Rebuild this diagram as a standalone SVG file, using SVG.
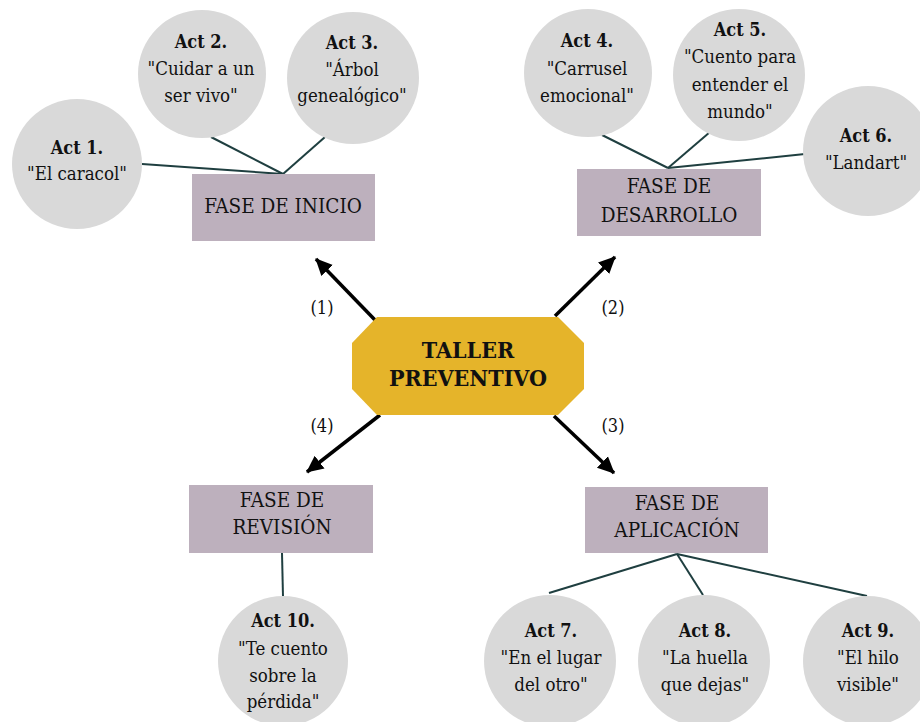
<svg xmlns="http://www.w3.org/2000/svg" width="920" height="722" viewBox="0 0 920 722">
<style>
.act{fill:#d9d9d9}
.box{fill:#bdb0bd}
text{font-family:'DejaVu Serif Condensed','DejaVu Serif',serif;font-stretch:condensed;fill:#111;text-anchor:middle}
.t{font-size:18.5px}
.b{font-weight:bold;font-size:18px}
.bt{font-size:20.5px}
.lbl{font-size:18px}
.ttl{font-weight:bold;font-size:23px}
.ln{stroke:#1f3f40;stroke-width:2;fill:none}
.ar{stroke:#000;stroke-width:3.5;fill:none;marker-end:url(#ah)}
</style>
<defs>
<marker id="ah" markerUnits="userSpaceOnUse" markerWidth="18" markerHeight="18" refX="16" refY="8" orient="auto" viewBox="0 0 18 16">
<path d="M0,0 L17,8 L0,16 z" fill="#000"/>
</marker>
</defs>
<rect width="920" height="722" fill="#fff"/>
<g id="connectors">
<line class="ln" x1="142" y1="164" x2="283" y2="174"/>
<line class="ln" x1="211" y1="137" x2="283" y2="174"/>
<line class="ln" x1="325" y1="137" x2="283" y2="174"/>
<line class="ln" x1="602" y1="135" x2="668" y2="168"/>
<line class="ln" x1="710" y1="132" x2="668" y2="168"/>
<line class="ln" x1="805" y1="154" x2="668" y2="168"/>
<line class="ln" x1="282" y1="553" x2="283" y2="597"/>
<line class="ln" x1="677" y1="554" x2="549" y2="593"/>
<line class="ln" x1="677" y1="554" x2="703" y2="595"/>
<line class="ln" x1="677" y1="554" x2="867" y2="596"/>
<line class="ar" x1="375" y1="320" x2="316" y2="259"/>
<line class="ar" x1="555" y1="316" x2="615" y2="257"/>
<line class="ar" x1="554" y1="416" x2="614" y2="473"/>
<line class="ar" x1="380" y1="415" x2="307" y2="472"/>
<text class="lbl" x="322" y="314">(1)</text>
<text class="lbl" x="613" y="314">(2)</text>
<text class="lbl" x="613" y="432">(3)</text>
<text class="lbl" x="322" y="432">(4)</text>
</g>
<g id="center">
<polygon points="377,317 558,317 584,343 584,389 558,415 377,415 352,389 352,343" fill="#e5b42a"/>
<text class="ttl" x="468" y="358">TALLER</text>
<text class="ttl" x="468" y="386">PREVENTIVO</text>
</g>
<g id="fase-inicio">
<rect class="box" x="192" y="174" width="183" height="67"/>
<text class="bt" x="283" y="213">FASE DE INICIO</text>
</g>
<g id="fase-desarrollo">
<rect class="box" x="577" y="169" width="184" height="67"/>
<text class="bt" x="669" y="193">FASE DE</text>
<text class="bt" x="669" y="222">DESARROLLO</text>
</g>
<g id="fase-revision">
<rect class="box" x="189" y="485" width="184" height="68"/>
<text class="bt" x="282" y="507">FASE DE</text>
<text class="bt" x="282" y="534">REVISIÓN</text>
</g>
<g id="fase-aplicacion">
<rect class="box" x="585" y="487" width="183" height="66"/>
<text class="bt" x="677" y="510">FASE DE</text>
<text class="bt" x="677" y="537">APLICACIÓN</text>
</g>
<g id="act1">
<circle class="act" cx="77" cy="164" r="65"/>
<text class="b" x="77" y="154">Act 1.</text>
<text class="t" x="77" y="180">"El caracol"</text>
</g>
<g id="act2">
<circle class="act" cx="202" cy="74" r="64"/>
<text class="b" x="201" y="48">Act 2.</text>
<text class="t" x="201" y="75">"Cuidar a un</text>
<text class="t" x="201" y="102">ser vivo"</text>
</g>
<g id="act3">
<circle class="act" cx="353" cy="78" r="66"/>
<text class="b" x="352" y="49">Act 3.</text>
<text class="t" x="352" y="76">"Árbol</text>
<text class="t" x="352" y="102">genealógico"</text>
</g>
<g id="act4">
<circle class="act" cx="588" cy="73" r="64"/>
<text class="b" x="587" y="47">Act 4.</text>
<text class="t" x="587" y="75">"Carrusel</text>
<text class="t" x="587" y="102">emocional"</text>
</g>
<g id="act5">
<circle class="act" cx="739" cy="75" r="66"/>
<text class="b" x="740" y="36">Act 5.</text>
<text class="t" x="740" y="63">"Cuento para</text>
<text class="t" x="740" y="91">entender el</text>
<text class="t" x="740" y="118">mundo"</text>
</g>
<g id="act6">
<circle class="act" cx="868" cy="151" r="65"/>
<text class="b" x="866" y="142">Act 6.</text>
<text class="t" x="866" y="169">"Landart"</text>
</g>
<g id="act7">
<circle class="act" cx="550" cy="661" r="66"/>
<text class="b" x="551" y="637">Act 7.</text>
<text class="t" x="551" y="664">"En el lugar</text>
<text class="t" x="551" y="691">del otro"</text>
</g>
<g id="act8">
<circle class="act" cx="704" cy="661" r="66"/>
<text class="b" x="705" y="637">Act 8.</text>
<text class="t" x="705" y="664">"La huella</text>
<text class="t" x="705" y="691">que dejas"</text>
</g>
<g id="act9">
<circle class="act" cx="868" cy="661" r="65"/>
<text class="b" x="868" y="637">Act 9.</text>
<text class="t" x="868" y="664">"El hilo</text>
<text class="t" x="868" y="691">visible"</text>
</g>
<g id="act10">
<circle class="act" cx="283" cy="661" r="65"/>
<text class="b" x="283" y="627">Act 10.</text>
<text class="t" x="283" y="655">"Te cuento</text>
<text class="t" x="283" y="682">sobre la</text>
<text class="t" x="283" y="708">pérdida"</text>
</g>
</svg>
